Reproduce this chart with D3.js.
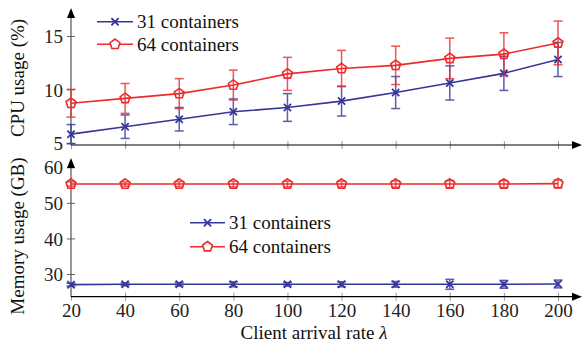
<!DOCTYPE html>
<html>
<head>
<meta charset="utf-8">
<script src="https://cdn.jsdelivr.net/npm/d3@7"></script>
<style>
  body { margin: 0; background: #fff; }
  svg text { font-family: "Liberation Serif", "DejaVu Serif", serif; }
</style>
</head>
<body>
<div id="wrapper"></div>
<script>
const rates = [20, 40, 60, 80, 100, 120, 140, 160, 180, 200]
const seriesNames = ["31 containers", "64 containers"]

const cpu31 = [5.8, 6.5, 7.2, 7.9, 8.3, 8.9, 9.7, 10.6, 11.5, 12.8]
const cpu31Err = [0.9, 1.1, 1.1, 1.2, 1.3, 1.4, 1.5, 1.6, 1.6, 1.6]
const cpu64 = [8.7, 9.15, 9.6, 10.4, 11.45, 11.95, 12.25, 12.9, 13.3, 14.35]
const cpu64Err = [1.3, 1.4, 1.4, 1.4, 1.55, 1.7, 1.8, 1.9, 2.0, 2.05]

const mem31 = [27.0, 27.1, 27.1, 27.1, 27.1, 27.1, 27.1, 27.1, 27.1, 27.2]
const mem31Err = [0.4, 0.4, 0.5, 0.7, 0.5, 0.7, 0.8, 1.4, 1.1, 1.1]
const mem64 = [55.3, 55.3, 55.3, 55.3, 55.3, 55.3, 55.3, 55.3, 55.3, 55.4]
const mem64Err = [0.6, 0.6, 0.7, 0.8, 0.8, 0.8, 0.9, 1.0, 1.0, 1.1]

const cpuTicks = [5, 10, 15]
const memTicks = [30, 40, 50, 60]

const blue = "#35359a"
const red = "#ee2a2a"
const fontSize = 19

const width = 584, height = 343

const svg = d3.select("#wrapper").append("svg")
    .attr("width", width)
    .attr("height", height)

svg.append("defs").append("marker")
    .attr("id", "arrow")
    .attr("viewBox", "0 0 10 10")
    .attr("refX", 2).attr("refY", 5)
    .attr("markerWidth", 10).attr("markerHeight", 10)
    .attr("markerUnits", "userSpaceOnUse")
    .attr("orient", "auto")
    .append("path")
    .attr("d", "M0,1 L10,5 L0,9 Z")
    .attr("fill", "#000")

const xScale = d3.scaleLinear().domain([20, 200]).range([71, 558])

const panels = [
    {
        y: d3.scaleLinear().domain([5, 15]).range([142.7, 36]),
        ticks: cpuTicks, top: 10, bottom: 145,
        title: "CPU usage (%)", titleY: 78,
        data: [[cpu31, cpu31Err], [cpu64, cpu64Err]],
        legend: { x1: 97, x2: 133, y: 21.7, dy: 22.6 },
        labels: false
    },
    {
        y: d3.scaleLinear().domain([30, 60]).range([274, 167.3]),
        ticks: memTicks, top: 160, bottom: 296.7,
        title: "Memory usage (GB)", titleY: 236,
        data: [[mem31, mem31Err], [mem64, mem64Err]],
        legend: { x1: 190, x2: 225, y: 222.7, dy: 24 },
        labels: true
    }
]

const colors = [blue, red]

function drawMarker(g, i, x, y) {
    if (i === 0) {
        const s = 3.6
        g.append("path")
            .attr("d", `M${x - s},${y - s}L${x + s},${y + s}M${x - s},${y + s}L${x + s},${y - s}`)
            .attr("stroke", blue).attr("stroke-width", 1.8)
    } else {
        const r = 5.2
        const pts = d3.range(5).map(k => {
            const a = -Math.PI / 2 + k * 2 * Math.PI / 5
            return [x + r * Math.cos(a), y + r * Math.sin(a)]
        })
        g.append("polygon")
            .attr("points", pts.map(p => p.join(",")).join(" "))
            .attr("fill", "none").attr("stroke", red).attr("stroke-width", 1.6)
    }
}

panels.forEach(p => {
    const g = svg.append("g")

    // axes
    const yAxis = g.append("g")
        .attr("transform", `translate(${xScale(20)},0)`)
        .call(d3.axisLeft(p.y).tickValues(p.ticks).tickSize(0).tickPadding(8))
    yAxis.attr("font-family", null).attr("font-size", null)
    yAxis.select(".domain").remove()
    yAxis.selectAll(".tick").append("line").attr("x1", -4).attr("x2", 4).attr("stroke", "#666")
    yAxis.selectAll(".tick text").attr("dy", "0.35em").attr("font-size", fontSize).attr("fill", "#222")
    g.append("line")
        .attr("x1", xScale(20)).attr("x2", xScale(20))
        .attr("y1", p.bottom).attr("y2", p.top + 6)
        .attr("stroke", "#555").attr("stroke-width", 1.2)
        .attr("marker-end", "url(#arrow)")

    const xAxis = g.append("g")
        .attr("transform", `translate(0,${p.bottom})`)
        .call(d3.axisBottom(xScale).tickValues(rates).tickSize(0).tickPadding(6).tickFormat(p.labels ? d3.format("d") : ""))
    xAxis.attr("font-family", null).attr("font-size", null)
    xAxis.select(".domain").remove()
    xAxis.selectAll(".tick").append("line").attr("y1", -4).attr("y2", 4).attr("stroke", "#999")
    xAxis.selectAll(".tick text").attr("dy", "0.75em").attr("font-size", fontSize).attr("fill", "#222")
    g.append("line")
        .attr("x1", xScale(20)).attr("x2", 574)
        .attr("y1", p.bottom).attr("y2", p.bottom)
        .attr("stroke", "#000").attr("stroke-width", 1.2)
        .attr("marker-end", "url(#arrow)")

    g.append("text")
        .attr("transform", `translate(24,${p.titleY}) rotate(-90)`)
        .attr("text-anchor", "middle")
        .attr("font-size", fontSize)
        .attr("fill", "#111")
        .text(p.title)

    // series
    p.data.forEach(([vals, errs], i) => {
        const c = colors[i]
        const eg = g.append("g").attr("stroke", c).attr("stroke-width", 1.5).attr("opacity", 0.8)
        rates.forEach((r, k) => {
            const x = xScale(r)
            const y1 = p.y(vals[k] - errs[k]), y2 = p.y(vals[k] + errs[k])
            eg.append("line").attr("x1", x).attr("x2", x).attr("y1", y1).attr("y2", y2)
            eg.append("line").attr("x1", x - 4.5).attr("x2", x + 4.5).attr("y1", y1).attr("y2", y1)
            eg.append("line").attr("x1", x - 4.5).attr("x2", x + 4.5).attr("y1", y2).attr("y2", y2)
        })
        g.append("path")
            .attr("d", d3.line().x((d, k) => xScale(rates[k])).y(d => p.y(d))(vals))
            .attr("fill", "none").attr("stroke", c).attr("stroke-width", 1.6)
        const mg = g.append("g")
        rates.forEach((r, k) => drawMarker(mg, i, xScale(r), p.y(vals[k])))

        // legend
        const ly = p.legend.y + i * p.legend.dy
        const lg = g.append("g")
        lg.append("line")
            .attr("x1", p.legend.x1).attr("x2", p.legend.x2)
            .attr("y1", ly).attr("y2", ly)
            .attr("stroke", c).attr("stroke-width", 1.6)
        if (i === 1) {
            lg.append("circle").attr("cx", (p.legend.x1 + p.legend.x2) / 2).attr("cy", ly).attr("r", 5).attr("fill", "#fff")
        }
        drawMarker(lg, i, (p.legend.x1 + p.legend.x2) / 2, ly)
        lg.append("text")
            .attr("x", p.legend.x2 + 4).attr("y", ly)
            .attr("dy", "0.35em")
            .attr("font-size", fontSize).attr("fill", "#111")
            .text(seriesNames[i])
    })
})

svg.append("text")
    .attr("x", 314).attr("y", 339)
    .attr("text-anchor", "middle")
    .attr("font-size", fontSize).attr("fill", "#111")
    .html("Client arrival rate <tspan font-style=\"italic\">λ</tspan>")
</script>
</body>
</html>
